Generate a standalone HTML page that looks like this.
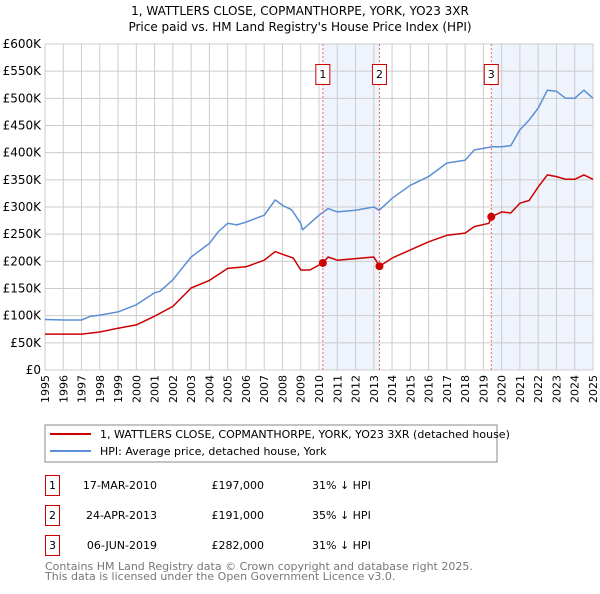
<!DOCTYPE html>
<html><head><meta charset="utf-8"><style>
body{margin:0;background:#fff;font-family:"DejaVu Sans","Liberation Sans",sans-serif;}
svg text{font-family:"DejaVu Sans","Liberation Sans",sans-serif;}
</style></head><body>
<svg id="chart" width="600" height="590" xmlns="http://www.w3.org/2000/svg">
<text x="300" y="15" text-anchor="middle" font-size="12" fill="#000">1, WATTLERS CLOSE, COPMANTHORPE, YORK, YO23 3XR</text>
<text x="300" y="31" text-anchor="middle" font-size="12" fill="#000">Price paid vs. HM Land Registry's House Price Index (HPI)</text>
<g id="shade"></g><g id="grid"></g><g id="axes"></g><g id="series"></g><g id="marks"></g>
<rect x="45" y="425" width="452" height="37" fill="#fff" stroke="#888"/>
<line x1="50" y1="434" x2="91" y2="434" stroke="#cc0000" stroke-width="2"/>
<text x="100" y="438" font-size="11">1, WATTLERS CLOSE, COPMANTHORPE, YORK, YO23 3XR (detached house)</text>
<line x1="50" y1="451" x2="91" y2="451" stroke="#5b8fd6" stroke-width="2"/>
<text x="100" y="455" font-size="11">HPI: Average price, detached house, York</text>
<g font-size="11">
<rect x="45.5" y="475.5" width="14" height="20" fill="none" stroke="#cc0000"/><text x="52.5" y="489" text-anchor="middle">1</text>
<text x="157" y="489" text-anchor="end">17-MAR-2010</text><text x="264" y="489" text-anchor="end">£197,000</text><text x="312" y="489">31% ↓ HPI</text>
<rect x="45.5" y="505.5" width="14" height="20" fill="none" stroke="#cc0000"/><text x="52.5" y="519" text-anchor="middle">2</text>
<text x="157" y="519" text-anchor="end">24-APR-2013</text><text x="264" y="519" text-anchor="end">£191,000</text><text x="312" y="519">35% ↓ HPI</text>
<rect x="45.5" y="535.5" width="14" height="20" fill="none" stroke="#cc0000"/><text x="52.5" y="549" text-anchor="middle">3</text>
<text x="157" y="549" text-anchor="end">06-JUN-2019</text><text x="264" y="549" text-anchor="end">£282,000</text><text x="312" y="549">31% ↓ HPI</text>
</g>
<text x="45" y="570" font-size="11" fill="#777">Contains HM Land Registry data © Crown copyright and database right 2025.</text>
<text x="45" y="580" font-size="11" fill="#777">This data is licensed under the Open Government Licence v3.0.</text>
</svg>
<script>
const hpiYears=[1995,1996,1997,1997.5,1998,1999,2000,2001,2001.3,2002,2003,2004,2004.5,2005,2005.5,2006,2007,2007.6,2008,2008.5,2009,2009.1,2010,2010.5,2011,2012,2013,2013.3,2014,2015,2016,2017,2018,2018.5,2019.5,2020,2020.5,2021,2021.5,2022,2022.5,2023,2023.5,2024,2024.5,2025];
const hpiValues=[93,92,92,99,101,107,120,142,145,166,208,233,255,270,267,272,285,313,303,295,270,258,285,297,291,294,300,294,316,340,356,381,386,405,411,411,413,442,460,482,515,513,500,500,515,500];
const propYears=[1995,1997,1998,1999,2000,2001,2002,2003,2004,2005,2006,2007,2007.6,2008,2008.6,2009,2009.5,2010.21,2010.5,2011,2012,2013,2013.31,2014,2015,2016,2017,2018,2018.5,2019.3,2019.43,2020,2020.5,2021,2021.5,2022,2022.5,2023,2023.5,2024,2024.5,2025];
const propValues=[66,66,70,77,83,99,117,151,165,187,190,202,218,213,206,184,184,197,208,202,205,208,191,206,221,236,248,252,264,270,282,291,289,307,312,337,359,356,351,351,359,351];
const saleYears=[2010.21,2013.31,2019.43];
const saleValues=[197,191,282];
const saleLabels=["1","2","3"];
const yTicks=[0,50,100,150,200,250,300,350,400,450,500,550,600];
const yTickLabels=["£0","£50K","£100K","£150K","£200K","£250K","£300K","£350K","£400K","£450K","£500K","£550K","£600K"];
const xTicks=[1995,1996,1997,1998,1999,2000,2001,2002,2003,2004,2005,2006,2007,2008,2009,2010,2011,2012,2013,2014,2015,2016,2017,2018,2019,2020,2021,2022,2023,2024,2025];
const L=45,R=593,T=44,B=370;
const X=y=>L+(y-1995)/30*(R-L);
const Y=v=>B-v/600*(B-T);
const NS="http://www.w3.org/2000/svg";
function mk(p,t,a){const e=document.createElementNS(NS,t);for(const k in a)e.setAttribute(k,a[k]);p.appendChild(e);return e;}
const shade=document.getElementById('shade'),grid=document.getElementById('grid'),axes=document.getElementById('axes'),series=document.getElementById('series'),marks=document.getElementById('marks');
let s1=mk(shade,'rect',{x:X(saleYears[0]),y:T,width:X(saleYears[1])-X(saleYears[0]),height:B-T,fill:'#eef3fc'});


let s2=mk(shade,'rect',{x:X(saleYears[2]),y:T,width:R-X(saleYears[2]),height:B-T,fill:'#eef3fc'});


yTicks.forEach((v,i)=>{
 const g=mk(grid,'line',{x1:L,x2:R,y1:Y(v),y2:Y(v),stroke:'#ccc','stroke-width':1});
 
 
 const t=mk(axes,'text',{x:L-4,y:Y(v)+4,'text-anchor':'end','font-size':12});
 t.textContent=yTickLabels[i];
 
 
});
xTicks.forEach(yr=>{
 const g=mk(grid,'line',{x1:X(yr),x2:X(yr),y1:T,y2:B,stroke:'#ccc','stroke-width':1});
 
 
 const t=mk(axes,'text',{x:0,y:0,'text-anchor':'end','font-size':11,transform:`translate(${X(yr)+4},${B+5}) rotate(-90)`});
 t.textContent=yr;
 
 
});
function path(xs,vs,col,name){
 const d=xs.map((x,i)=>(i?'L':'M')+X(x).toFixed(1)+','+Y(vs[i]).toFixed(1)).join('');
 const p=mk(series,'path',{d:d,fill:'none',stroke:col,'stroke-width':1.5,'stroke-linejoin':'round'});
 
 
}
path(hpiYears,hpiValues,'#5b8fd6','hpi-line');
path(propYears,propValues,'#cc0000','property-line');
saleYears.forEach((yr,i)=>{
 const l=mk(marks,'line',{x1:X(yr),x2:X(yr),y1:T,y2:B,stroke:'#e66','stroke-dasharray':'2,2','stroke-width':1});
 
 
 const c=mk(marks,'circle',{cx:X(yr),cy:Y(saleValues[i]),r:4,fill:'#cc0000'});
 
 
 const b=mk(marks,'rect',{x:X(yr)-7,y:64.5,width:14,height:20,fill:'#fff',stroke:'#cc0000'});
 
 
 const t=mk(marks,'text',{x:X(yr),y:78,'text-anchor':'middle','font-size':11});
 t.textContent=saleLabels[i];
 
 
});
const fr=mk(axes,'rect',{x:L,y:T,width:R-L,height:B-T,fill:'none',stroke:'#ccc'});


</script>
</body></html>
